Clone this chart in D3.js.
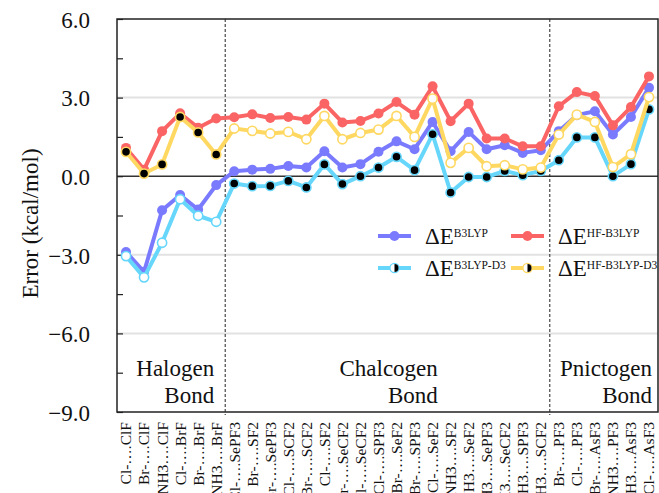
<!doctype html>
<html>
<head>
<meta charset="utf-8">
<script src="https://d3js.org/d3.v7.min.js"></script>
<style>
  body { margin: 0; background: #fff; }
  text { font-family: "Liberation Serif", "Times New Roman", serif; fill: #111; }
</style>
</head>
<body>
<div id="chart"></div>
<script>
// categories (complexes), in plot order
var labels = ["Cl-….ClF", "Br-….ClF", "NH3….ClF", "Cl-….BrF", "Br-….BrF", "NH3….BrF",
  "Cl-….SePF3", "Br-….SF2", "Br-….SePF3", "Cl-….SCF2", "Br-….SCF2", "Cl-….SF2",
  "Br-….SeCF2", "Cl-….SeCF2", "Cl-….SPF3", "Br-….SeF2", "Br-….SPF3", "Cl-….SeF2",
  "NH3….SF2", "NH3….SeF2", "NH3….SePF3", "NH3….SeCF2", "NH3….SPF3", "NH3….SCF2",
  "Br-….PF3", "Cl-….PF3", "Br-….AsF3", "NH3….PF3", "NH3….AsF3", "Cl-….AsF3"];

// bond groups and how many complexes each holds
var groupNames = [["Halogen", "Bond"], ["Chalcogen", "Bond"], ["Pnictogen", "Bond"]];
var groupSizes = [6, 18, 6];

// errors in kcal/mol
var b3lyp = [-2.89, -3.65, -1.30, -0.72, -1.27, -0.34,
  0.19, 0.25, 0.28, 0.39, 0.33, 0.95, 0.33, 0.46, 0.93, 1.33, 1.03, 2.07,
  0.95, 1.69, 1.03, 1.18, 0.89, 0.99,
  1.72, 2.33, 2.48, 1.59, 2.26, 3.38];
var hfB3lyp = [1.08, 0.25, 1.72, 2.40, 1.85, 2.20,
  2.25, 2.36, 2.22, 2.26, 2.16, 2.77, 2.05, 2.11, 2.39, 2.83, 2.35, 3.43,
  2.10, 2.77, 1.44, 1.44, 1.14, 1.14,
  2.67, 3.21, 3.06, 1.94, 2.64, 3.81];
var b3lypD3 = [-3.05, -3.86, -2.54, -0.88, -1.51, -1.74,
  -0.28, -0.38, -0.37, -0.18, -0.43, 0.45, -0.30, 0.00, 0.33, 0.74, 0.23, 1.60,
  -0.62, -0.03, -0.03, 0.20, 0.04, 0.20,
  0.61, 1.48, 1.48, 0.00, 0.46, 2.55];
var hfB3lypD3 = [0.93, 0.10, 0.45, 2.26, 1.67, 0.83,
  1.82, 1.73, 1.63, 1.69, 1.41, 2.30, 1.41, 1.65, 1.78, 2.30, 1.50, 2.96,
  0.51, 1.08, 0.38, 0.42, 0.26, 0.33,
  1.59, 2.35, 2.07, 0.35, 0.84, 3.02];

var yTicks = [-9, -6, -3, 0, 3, 6];
var yMinor = [-7.5, -4.5, -1.5, 1.5, 4.5];
var gridVals = [-6, -3, 3];

var W = 659, H = 493;
var pLeft = 117, pRight = 658, pTop = 19, pBottom = 412;

var svg = d3.select("#chart").append("svg")
  .attr("width", W).attr("height", H);

var x = d3.scaleBand().domain(labels).range([pLeft, pRight]).padding(0);
var cx = function(i) { return x(labels[i]) + x.bandwidth() / 2; };
var y = d3.scaleLinear().domain([-9, 6]).range([pBottom, pTop]);

// which group each category belongs to
var groupOf = [];
groupSizes.forEach(function(n, g) { for (var k = 0; k < n; k++) groupOf.push(g); });

// light gridlines
svg.append("g").selectAll("line").data(gridVals).enter().append("line")
  .attr("x1", pLeft).attr("x2", pRight)
  .attr("y1", function(d) { return y(d); }).attr("y2", function(d) { return y(d); })
  .attr("stroke", "#e2e2e2").attr("stroke-width", 2);

// zero line
svg.append("line")
  .attr("x1", pLeft).attr("x2", pRight).attr("y1", y(0)).attr("y2", y(0))
  .attr("stroke", "#333").attr("stroke-width", 1.5);

// dashed separators between bond types
var bounds = [];
var acc = 0;
groupSizes.slice(0, -1).forEach(function(n) { acc += n; bounds.push(x(labels[acc])); });
svg.append("g").selectAll("line").data(bounds).enter().append("line")
  .attr("x1", function(d) { return d; }).attr("x2", function(d) { return d; })
  .attr("y1", pTop).attr("y2", pBottom + 3)
  .attr("stroke", "#222").attr("stroke-width", 1).attr("stroke-dasharray", "3,2");

// y axis
var yAxis = svg.append("g").attr("transform", "translate(" + pLeft + ",0)")
  .call(d3.axisLeft(y).tickValues(yTicks).tickFormat(d3.format(".1f"))
    .tickSize(-6).tickPadding(27));
yAxis.select(".domain").remove();
yAxis.selectAll("text").style("font-size", "23px").attr("dy", "0.36em")
  .style("font-family", "'Liberation Serif', serif").attr("fill", "#111");
yAxis.selectAll(".tick line").attr("stroke", "#222").attr("stroke-width", 1.2);

var yMinorAxis = svg.append("g").attr("transform", "translate(" + pLeft + ",0)")
  .call(d3.axisLeft(y).tickValues(yMinor).tickSize(-6).tickFormat(""));
yMinorAxis.select(".domain").remove();
yMinorAxis.selectAll(".tick line").attr("stroke", "#222").attr("stroke-width", 1.2);

// x labels, rotated
var xAxis = svg.append("g").attr("transform", "translate(0," + pBottom + ")")
  .call(d3.axisBottom(x).tickSize(0).tickPadding(0));
xAxis.select(".domain").remove();
xAxis.selectAll("text")
  .style("font-size", "15.5px").style("font-family", "'Liberation Serif', serif")
  .attr("fill", "#111")
  .attr("text-anchor", "end")
  .attr("transform", "rotate(-90)")
  .attr("x", -10).attr("y", 0).attr("dy", "0.35em");

// y label
svg.append("text")
  .attr("transform", "translate(30," + ((pTop + pBottom) / 2 + 8) + ") rotate(-90)")
  .attr("text-anchor", "middle").attr("dy", "0.35em")
  .style("font-size", "23px")
  .text("Error (kcal/mol)");

// group labels
var groupRight = [bounds[0] - 11, bounds[1] - 112, pRight - 6];
groupNames.forEach(function(lines, g) {
  lines.forEach(function(t, k) {
    svg.append("text")
      .attr("x", groupRight[g]).attr("y", 376 + k * 27)
      .attr("text-anchor", "end").style("font-size", "23px")
      .text(t);
  });
});

// series
var series = [
  {name: "B3LYP", values: b3lyp, color: "#7a7aff", kind: "solid"},
  {name: "HF-B3LYP", values: hfB3lyp, color: "#fa6464", kind: "solid"},
  {name: "B3LYP-D3", values: b3lypD3, color: "#66d6fb", kind: "d3", blackIn: [1, 2]},
  {name: "HF-B3LYP-D3", values: hfB3lypD3, color: "#ffd862", kind: "d3", blackIn: [0]}
];

var line = d3.line()
  .x(function(d, i) { return cx(i); })
  .y(function(d) { return y(d); });

series.forEach(function(s) {
  var g = svg.append("g");
  g.append("path").datum(s.values)
    .attr("d", line).attr("fill", "none")
    .attr("stroke", s.color).attr("stroke-width", 4)
    .attr("stroke-linejoin", "round");
  g.selectAll("circle").data(s.values).enter().append("circle")
    .attr("cx", function(d, i) { return cx(i); })
    .attr("cy", function(d) { return y(d); })
    .attr("r", s.kind === "solid" ? 5 : 4.6)
    .attr("fill", function(d, i) {
      if (s.kind === "solid") return s.color;
      return s.blackIn.indexOf(groupOf[i]) >= 0 ? "#000" : "#fff";
    })
    .attr("stroke", s.color)
    .attr("stroke-width", s.kind === "solid" ? 0 : 1.6);
});

// frame
svg.append("rect")
  .attr("x", pLeft).attr("y", pTop)
  .attr("width", pRight - pLeft).attr("height", pBottom - pTop)
  .attr("fill", "none").attr("stroke", "#222").attr("stroke-width", 1.5);

// legend
var legendPos = [[378, 236], [511, 236], [378, 268], [511, 268]];
var halfArc = d3.arc().innerRadius(0).outerRadius(4).startAngle(0).endAngle(Math.PI);
series.forEach(function(s, k) {
  var p = legendPos[k];
  var lg = svg.append("g").attr("transform", "translate(" + p[0] + "," + p[1] + ")");
  lg.append("line").attr("x1", 0).attr("x2", 33).attr("y1", 0).attr("y2", 0)
    .attr("stroke", s.color).attr("stroke-width", 4);
  if (s.kind === "solid") {
    lg.append("circle").attr("cx", 16.5).attr("r", 5).attr("fill", s.color);
  } else {
    lg.append("circle").attr("cx", 16.5).attr("r", 4.6).attr("fill", "#fff")
      .attr("stroke", s.color).attr("stroke-width", 1.4);
    lg.append("path").attr("d", halfArc()).attr("transform", "translate(16.5,0)")
      .attr("fill", "#000");
  }
  var t = lg.append("text").attr("x", 47).attr("y", 8).style("font-size", "23px");
  t.append("tspan").text("ΔE");
  t.append("tspan").attr("dy", -7).style("font-size", "11.5px").text(s.name);
});
</script>
</body>
</html>
